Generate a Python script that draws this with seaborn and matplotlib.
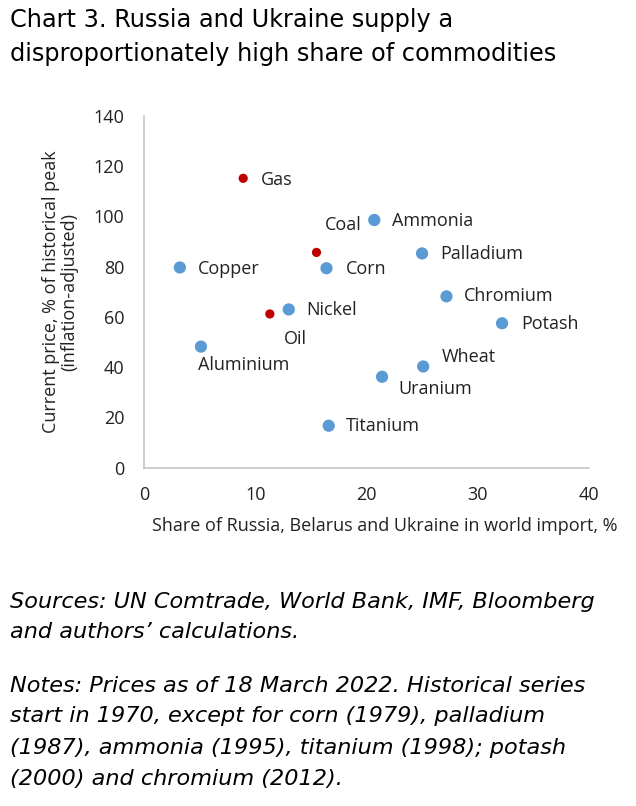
import matplotlib
matplotlib.use("Agg")
import matplotlib.pyplot as plt
import seaborn as sns
import pandas as pd

# data
names = ["Gas", "Coal", "Oil", "Ammonia", "Palladium", "Copper", "Corn", "Chromium",
         "Nickel", "Potash", "Aluminium", "Wheat", "Uranium", "Titanium"]
share = [8.9, 15.5, 11.3, 20.7, 25.0, 3.2, 16.4, 27.2, 13.0, 32.2, 5.1, 25.1, 21.4, 16.6]
price = [115.2, 85.7, 61.2, 98.6, 85.3, 79.7, 79.4, 68.2, 63.0, 57.5, 48.2, 40.3, 36.2, 16.7]
energy = ["Gas", "Coal", "Oil"]

title_lines = ["Chart 3. Russia and Ukraine supply a",
               "disproportionately high share of commodities"]
source_lines = ["Sources: UN Comtrade, World Bank, IMF, Bloomberg",
                "and authors\u2019 calculations."]
note_lines = ["Notes: Prices as of 18 March 2022. Historical series",
              "start in 1970, except for corn (1979), palladium",
              "(1987), ammonia (1995), titanium (1998); potash",
              "(2000) and chromium (2012)."]

# label offsets (pixels, dpi=72 so points == pixels)
offsets = {"Gas": (18, -2), "Coal": (8, 27), "Oil": (14, -25), "Ammonia": (18, -1),
           "Palladium": (18, -1), "Copper": (18, -2), "Corn": (19, -1), "Chromium": (17, 0),
           "Nickel": (18, -1), "Potash": (19, -1), "Aluminium": (-3, -18), "Wheat": (19, 9),
           "Uranium": (16, -12), "Titanium": (17, 0)}

df = pd.DataFrame({"name": names, "share": share, "price": price})
df["energy"] = df["name"].isin(energy)

sns.set_style("white")
plt.rcParams["font.family"] = ["Open Sans", "DejaVu Sans"]

W, H = 636, 806
fig = plt.figure(figsize=(W / 72, H / 72), dpi=72)
ax = fig.add_axes([144.3 / W, 1 - 467.7 / H, 444.4 / W, 351.7 / H])

sns.scatterplot(data=df[~df.energy], x="share", y="price", color="#5B9BD5", s=150,
                edgecolor="none", ax=ax)
sns.scatterplot(data=df[df.energy], x="share", y="price", color="#C00000", s=85,
                edgecolor="none", ax=ax)

for _, r in df.iterrows():
    dx, dy = offsets[r["name"]]
    ax.annotate(r["name"], (r["share"], r["price"]), xytext=(dx, dy),
                textcoords="offset points", ha="left", va="center",
                fontsize=18, color="#222222")

ax.set_xlim(0, 40)
ax.set_ylim(0, 140)
ax.set_xticks(range(0, 41, 10))
ax.set_yticks(range(0, 141, 20))
ax.set_xlabel("")
ax.set_ylabel("")
ax.tick_params(length=0, labelsize=18, labelcolor="#222222")
ax.tick_params(axis="x", pad=18)
ax.tick_params(axis="y", pad=20)
for s in ["top", "right"]:
    ax.spines[s].set_visible(False)
for s in ["left", "bottom"]:
    ax.spines[s].set_color("#BFBFBF")
    ax.spines[s].set_linewidth(1.5)

fig.text(385 / W, 1 - 526 / H, "Share of Russia, Belarus and Ukraine in world import, %",
         ha="center", va="center", fontsize=18, color="#222222")
fig.text(60 / W, 1 - 292 / H, "Current price, % of historical peak\n(inflation-adjusted)",
         ha="center", va="center", rotation=90, multialignment="center",
         fontsize=18, color="#222222", linespacing=1.05)

for line, base in zip(title_lines, [27, 61]):
    fig.text(10 / W, 1 - base / H, line, ha="left", va="baseline", fontsize=24,
             family="DejaVu Sans", color="black")
for line, base in zip(source_lines + note_lines, [608, 638, 692, 722, 754, 785]):
    fig.text(10 / W, 1 - base / H, line, ha="left", va="baseline", fontsize=22.4,
             family="DejaVu Sans", style="italic", color="black")

fig.savefig("out.png", dpi=72)
